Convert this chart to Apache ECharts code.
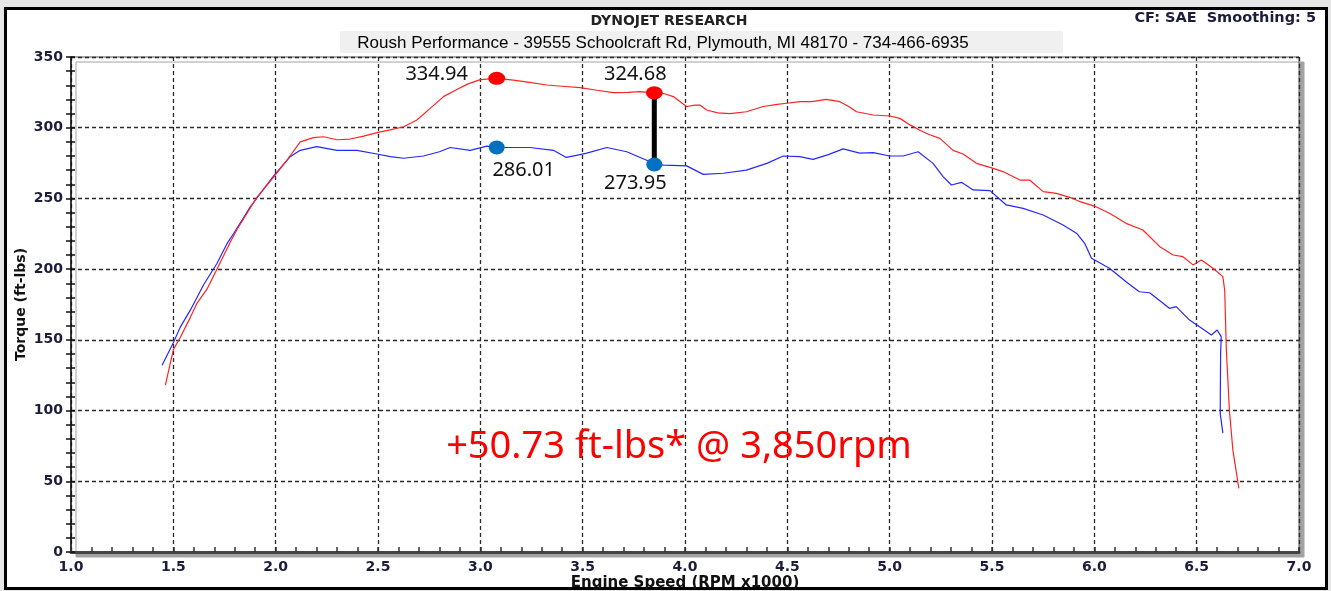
<!DOCTYPE html>
<html>
<head>
<meta charset="utf-8">
<script src="https://cdn.jsdelivr.net/npm/echarts@6/dist/echarts.min.js"></script>
<style>
  html, body { margin: 0; padding: 0; background: #e6e6e6; }
  #main { width: 1331px; height: 591px; }
</style>
</head>
<body>
<div id="main"></div>
<script>
// modified car (red) - rpm x1000 / torque ft-lbs
var rpmMod = [1.461, 1.50, 1.535, 1.58, 1.616, 1.665, 1.713, 1.778, 1.811, 1.909, 1.99, 2.055, 2.12, 2.185, 2.234, 2.30, 2.364, 2.43, 2.495, 2.56, 2.625, 2.69, 2.755, 2.82, 2.885, 2.94, 3.00, 3.08, 3.162, 3.24, 3.325, 3.40, 3.487, 3.57, 3.65, 3.72, 3.78, 3.85, 3.90, 3.943, 3.98, 4.008, 4.05, 4.073, 4.106, 4.16, 4.22, 4.30, 4.382, 4.45, 4.497, 4.562, 4.62, 4.69, 4.757, 4.80, 4.838, 4.92, 5.0, 5.05, 5.10, 5.15, 5.196, 5.245, 5.31, 5.359, 5.424, 5.49, 5.554, 5.636, 5.684, 5.75, 5.815, 5.896, 5.93, 6.0, 6.074, 6.155, 6.237, 6.32, 6.385, 6.433, 6.482, 6.523, 6.58, 6.628, 6.637, 6.645, 6.66, 6.677, 6.706]
var tqMod = [118, 143, 152, 165, 176, 186, 200, 219, 228, 251, 265, 277, 290, 293, 293.6, 291.5, 292, 294, 296.5, 298.5, 300.7, 305.5, 313.7, 322, 327, 331, 334, 334.94, 333.7, 332, 330.2, 329.3, 328.3, 326.5, 324.8, 325, 325.5, 324.68, 324, 322, 318, 315, 316, 316, 312.5, 310.5, 310, 311.3, 315, 316.5, 317.3, 318.4, 318.5, 320, 318.4, 315, 311.3, 309, 308.3, 306.6, 302, 298, 295, 292.5, 284, 281.4, 274.8, 272, 269, 263, 263, 254.8, 253.6, 250, 247.7, 244.6, 239.5, 232.4, 227.7, 215.9, 210, 208.8, 203, 206.5, 200.6, 194.7, 185, 143, 100, 72, 45]

// stock car (blue)
var rpmStock = [1.445, 1.50, 1.534, 1.583, 1.648, 1.713, 1.762, 1.794, 1.876, 1.99, 2.071, 2.12, 2.20, 2.30, 2.397, 2.495, 2.56, 2.625, 2.722, 2.80, 2.853, 2.95, 3.032, 3.08, 3.243, 3.357, 3.42, 3.47, 3.52, 3.618, 3.715, 3.813, 3.85, 3.90, 4.008, 4.089, 4.187, 4.30, 4.40, 4.48, 4.56, 4.626, 4.70, 4.773, 4.854, 4.92, 5.0, 5.066, 5.139, 5.212, 5.261, 5.302, 5.351, 5.408, 5.49, 5.57, 5.652, 5.75, 5.847, 5.913, 5.953, 5.986, 6.074, 6.155, 6.22, 6.27, 6.367, 6.40, 6.465, 6.514, 6.572, 6.60, 6.62, 6.617, 6.615, 6.628]
var tqStock = [132, 148, 159, 171, 189, 204, 218, 225, 244, 266, 279.5, 284, 286.6, 284, 284, 281.4, 279.5, 278.4, 280, 283, 286, 284, 287, 286.01, 286, 284, 279, 280.5, 282, 286, 283, 277, 273.95, 273.5, 273, 267, 267.8, 270, 274.8, 280, 279.5, 277.6, 281, 285, 282, 282.4, 280, 280, 283, 274.8, 265.4, 259.5, 261.4, 256, 255.5, 245.4, 243, 238.3, 231.2, 225.4, 218.3, 207.7, 200.6, 191.1, 184, 183.3, 172.3, 173.5, 164, 159.3, 153.4, 157, 152.3, 140.5, 98, 84]

// highlighted points
var peakRpm = [3.08, 3.85]
var peakMod = [334.94, 324.68]
var peakStock = [286.01, 273.95]

var titleText = 'DYNOJET RESEARCH'
var subText = 'Roush Performance - 39555 Schoolcraft Rd, Plymouth, MI 48170 - 734-466-6935'
var cfText = 'CF: SAE  Smoothing: 5'
var gainText = '+50.73 ft-lbs* @ 3,850rpm'

function zip (xs, ys) {
  return xs.map(function (x, i) { return [x, ys[i]] })
}

var tickFont = {
  fontFamily: 'DejaVu Sans',
  fontWeight: 'bold',
  fontSize: 14,
  color: '#1c1c3c'
}
var dash = { color: '#2a2a2a', type: [4, 3], width: 1.3 }

var modOffsets = [[-60, -4], [-19, -19]]
var stockOffsets = [[27, 23], [-19, 19]]
var ptLabel = { fontFamily: 'Noto Sans', fontSize: 20, color: '#111' }

var chart = echarts.init(document.getElementById('main'))

var options = {
  backgroundColor: '#e6e6e6',
  animation: false,
  grid: {
    left: 71,
    right: 32,
    top: 57,
    bottom: 39,
    containLabel: false,
    outerBoundsMode: 'none', // keep the plot box where it is (v6 shrinks it otherwise)
    show: true,
    backgroundColor: '#fff',
    borderColor: '#555',
    borderWidth: 1,
    shadowColor: '#a3a3a3',
    shadowOffsetX: 5,
    shadowOffsetY: 5,
    shadowBlur: 0
  },
  graphic: [
    // outer frame
    { type: 'rect', z: -2, shape: { x: 5.5, y: 8.5, width: 1321, height: 580 }, style: { fill: '#fff', stroke: '#000', lineWidth: 3 } },
    // shop name box
    { type: 'rect', z: -1, shape: { x: 340, y: 31, width: 723, height: 22 }, style: { fill: '#f0f0f0' } },
    { type: 'text', x: 669, y: 21, style: { text: titleText, fill: '#222', font: 'bold 14px "DejaVu Sans"', align: 'center', verticalAlign: 'middle' } },
    { type: 'text', x: 663, y: 43, style: { text: subText, fill: '#000', font: '17px "Liberation Sans"', align: 'center', verticalAlign: 'middle' } },
    { type: 'text', x: 1316, y: 18, style: { text: cfText, fill: '#1c1c3c', font: 'bold 14.5px "DejaVu Sans"', align: 'right', verticalAlign: 'middle' } },
    { type: 'text', x: 679, y: 447, z: 10, style: { text: gainText, fill: '#ff0000', font: '38px "Noto Sans"', align: 'center', verticalAlign: 'middle' } }
  ],
  xAxis: {
    type: 'value',
    min: 1,
    max: 7,
    interval: 0.5,
    name: 'Engine Speed (RPM x1000)',
    nameLocation: 'middle',
    nameGap: 24,
    nameMoveOverlap: false,
    nameTextStyle: { fontFamily: 'DejaVu Sans', fontWeight: 'bold', fontSize: 15, color: '#111' },
    axisLine: { show: true, onZero: false, lineStyle: { color: '#444', width: 3 } },
    axisTick: { inside: true, length: 5, lineStyle: { color: '#333', width: 1.5 } },
    minorTick: { show: true, splitNumber: 5, length: 5, lineStyle: { color: '#333', width: 1.5 } },
    axisLabel: Object.assign({ margin: 8, formatter: function (v) { return v.toFixed(1) } }, tickFont),
    splitLine: { show: true, lineStyle: dash }
  },
  yAxis: [
    {
      type: 'value',
      min: 0,
      max: 350,
      interval: 50,
      name: 'Torque (ft-lbs)',
      nameLocation: 'middle',
      nameGap: 43,
      nameMoveOverlap: false,
      nameTextStyle: { fontFamily: 'DejaVu Sans', fontWeight: 'bold', fontSize: 14, color: '#111' },
      axisLine: { show: true, lineStyle: { color: '#111', width: 1.5 } },
      axisTick: { show: true, length: 5, lineStyle: { color: '#111', width: 1.5 } },
      minorTick: { show: true, splitNumber: 5, length: 5, lineStyle: { color: '#111', width: 1.5 } },
      axisLabel: Object.assign({ margin: 8 }, tickFont),
      splitLine: { show: true, lineStyle: dash }
    },
    {
      // second copy so the ticks cross the axis line
      type: 'value',
      min: 0,
      max: 350,
      interval: 50,
      position: 'left',
      axisLine: { show: false },
      axisTick: { show: true, inside: true, length: 4, lineStyle: { color: '#111', width: 1.5 } },
      minorTick: { show: true, splitNumber: 5, length: 4, lineStyle: { color: '#111', width: 1.5 } },
      axisLabel: { show: false },
      splitLine: { show: false }
    }
  ],
  series: [
    {
      name: 'stock',
      type: 'line',
      data: zip(rpmStock, tqStock),
      showSymbol: false,
      z: 3,
      lineStyle: { color: '#2626ff', width: 1.2 }
    },
    {
      name: 'mod',
      type: 'line',
      data: zip(rpmMod, tqMod),
      showSymbol: false,
      z: 3,
      lineStyle: { color: '#ff2222', width: 1.2 }
    },
    {
      name: 'gap',
      type: 'line',
      data: [[peakRpm[1], peakMod[1]], [peakRpm[1], peakStock[1]]],
      showSymbol: false,
      z: 4,
      lineStyle: { color: '#000', width: 5 }
    },
    {
      name: 'modPeak',
      type: 'scatter',
      z: 5,
      symbolSize: [17, 13],
      itemStyle: { color: '#ff0000', opacity: 1 },
      data: peakRpm.map(function (x, i) {
        return {
          value: [x, peakMod[i]],
          label: Object.assign({ show: true, position: 'inside', offset: modOffsets[i], formatter: function (p) { return p.value[1].toFixed(2) } }, ptLabel)
        }
      })
    },
    {
      name: 'stockPeak',
      type: 'scatter',
      z: 5,
      symbolSize: [16, 14],
      itemStyle: { color: '#0070c0', opacity: 1 },
      data: peakRpm.map(function (x, i) {
        return {
          value: [x, peakStock[i]],
          label: Object.assign({ show: true, position: 'inside', offset: stockOffsets[i], formatter: function (p) { return p.value[1].toFixed(2) } }, ptLabel)
        }
      })
    }
  ]
}

chart.setOption(options)
</script>
</body>
</html>
